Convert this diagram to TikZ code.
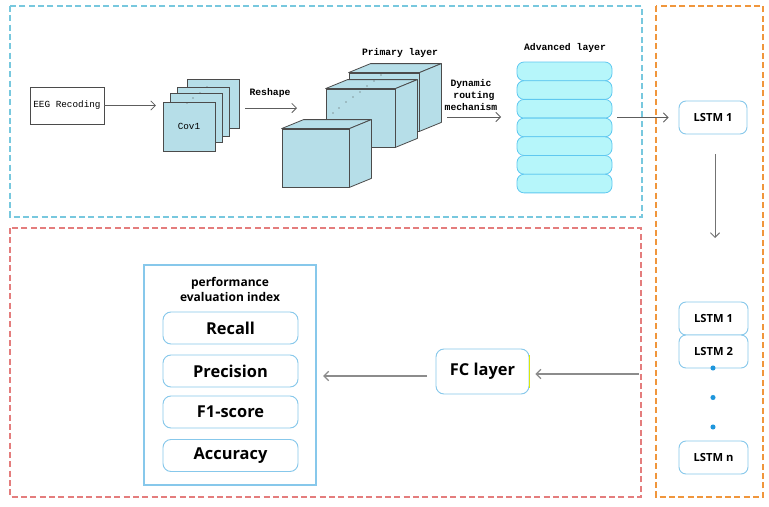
\documentclass[tikz,border=0pt]{standalone}
\usepackage{fontspec}
\setsansfont{Open Sans}
\newfontfamily\simfont{Liberation Mono}
\usetikzlibrary{arrows.meta}
\definecolor{boxblue}{RGB}{120,200,222}
\definecolor{boxorange}{RGB}{240,150,60}
\definecolor{boxred}{RGB}{228,125,125}
\definecolor{cubefill}{RGB}{182,222,232}
\definecolor{advfill}{RGB}{182,246,250}
\definecolor{advdraw}{RGB}{95,200,240}
\definecolor{lstmdraw}{RGB}{135,200,235}
\definecolor{dotblue}{RGB}{30,150,220}
\definecolor{edgegray}{RGB}{75,75,75}
\tikzset{
  dashbox/.style={dash pattern=on 4.5pt off 2.5pt, line width=0.8pt},
  arrdark/.style={draw=edgegray!90, line width=0.6pt, -{Straight Barb[length=3.5pt,width=7pt]}},
  arrgray/.style={draw=black!45, line width=0.9pt, -{Straight Barb[length=3.5pt,width=7pt]}},
  eegbox/.style={draw=edgegray, line width=0.6pt, fill=white, minimum width=55.5pt, minimum height=27.75pt, inner sep=0pt, font=\simfont\fontsize{7}{8}\selectfont},
  covsq/.style={draw=edgegray, line width=0.6pt, fill=cubefill, minimum width=39pt, minimum height=36.75pt, inner sep=0pt},
  cubeface/.style={draw=edgegray, line width=0.6pt, fill=cubefill, minimum height=43.5pt, inner sep=0pt},
  advbox/.style={draw=advdraw, line width=0.6pt, fill=advfill, rounded corners=5.25pt, minimum width=71.25pt, minimum height=14pt, inner sep=0pt},
  lstmbox/.style={draw=lstmdraw, line width=0.7pt, fill=white, rounded corners=5.25pt, minimum width=51pt, minimum height=24.75pt, inner sep=0pt, font=\sffamily\bfseries\fontsize{8.4}{10}\selectfont},
  metricbox/.style={draw=lstmdraw, line width=0.7pt, fill=white, rounded corners=6pt, minimum width=101.25pt, minimum height=24pt, inner sep=0pt, font=\sffamily\bfseries\fontsize{12.3}{14}\selectfont},
  boldlabel/.style={font=\simfont\bfseries\fontsize{7.3}{9.5}\selectfont, inner sep=0pt, align=center},
  tinydot/.style={fill=black!70, draw=none},
  bluedot/.style={circle, fill=dotblue, draw=none, minimum size=3.8pt, inner sep=0pt}
}
\newcommand{\mycube}[1]{%
  \draw[draw=edgegray, line width=0.6pt, fill=cubefill, line join=round]
    (#1.north west) -- ([shift={(22,-9)}]#1.north west) -- ([shift={(22,-9)}]#1.north east) -- (#1.north east) -- cycle;
  \draw[draw=edgegray, line width=0.6pt, fill=cubefill, line join=round]
    (#1.north east) -- ([shift={(22,-9)}]#1.north east) -- ([shift={(22,-9)}]#1.south east) -- (#1.south east) -- cycle;
}
\begin{document}
\begin{tikzpicture}[x=0.75pt,y=-0.75pt]
\useasboundingbox (0,0) rectangle (769,507);
\fill[white] (0,0) rectangle (769,507);

% dashed frames
\draw[dashbox, draw=boxblue] (10,6) rectangle (642,217);
\draw[dashbox, draw=boxorange] (656,6) rectangle (763,497);
\draw[dashbox, draw=boxred] (10,228) rectangle (641,497);

% EEG
\node[eegbox] (eeg) at (67,105.5) {EEG Recoding};

% Cov stack
\node[covsq] (cov4) at (213,104) {};
\node[covsq] (cov3) at (203.5,111.5) {};
\node[covsq] (cov2) at (196.5,117.5) {};
\node[covsq, font=\simfont\fontsize{7}{8}\selectfont] (cov1) at (189,126.5) {Cov1};
\foreach \p in {(187,103),(193,98),(200,93),(207,87)} \fill[tinydot] \p circle (0.6);

\draw[arrdark, shorten >=5pt] (eeg.east) -- (eeg.east -| cov1.west);

% Reshape
\coordinate (rs1) at (245,108);
\coordinate (rs2) at (297,108);
\draw[arrdark] (rs1) -- (rs2);
\node[boldlabel] (reshape) at (270,93) {Reshape};

% cubes
\node[cubeface, minimum width=52.5pt] (cubeC) at (384,102) {};
\mycube{cubeC}
\node[cubeface, minimum width=51.75pt] (cubeB) at (360.5,118) {};
\mycube{cubeB}
\node[cubeface, minimum width=50.25pt] (cubeA) at (315.5,158) {};
\mycube{cubeA}
\foreach \p in {(333,113),(339,108),(346,102),(353,97),(360,92),(367,86),(374,81),(381,75)} \fill[tinydot] \p circle (0.6);
\node[boldlabel] (primary) at (400,53) {Primary layer};

% Dynamic routing
\node[boldlabel] (dyn) at (471,95) {Dynamic\\[-0.2pt]\phantom{.}routing\\[-0.2pt]mechanism};
\coordinate (dr1) at (447,117);
\coordinate (dr2) at (501,117);
\draw[arrdark] (dr1) -- (dr2);

% Advanced layer stack
\foreach \i in {1,...,7} {
  \node[advbox] (adv\i) at (564.5,{62+9.35+(\i-1)*18.7}) {};
}
\node[boldlabel] (advlabel) at (565,48) {Advanced layer};

% LSTM top
\node[lstmbox] (lstmtop) at (713,117.5) {LSTM 1};
\draw[arrdark, shorten <=3.75pt, shorten >=7.5pt] (lstmtop.west -| adv4.east) -- (lstmtop.west);

% LSTM stack
\node[lstmbox, minimum width=51.75pt] (lsA) at (713.5,318.5) {LSTM 1};
\node[lstmbox, minimum width=51.75pt] (lsB) at (713.5,351.5) {LSTM 2};
\node[lstmbox, minimum width=51.75pt] (lsN) at (713.5,457.5) {LSTM n};
\node[bluedot] (d1) at (713,368) {};
\node[bluedot] (d2) at (713,397.5) {};
\node[bluedot] (d3) at (713,427) {};

\coordinate (down2) at (715,238);
\draw[draw=black!55, line width=0.7pt, -{Straight Barb[length=3.5pt,width=7pt]}, shorten <=15pt] (lstmtop.south -| down2) -- (down2);

% FC layer
\node[draw=lstmdraw, line width=0.7pt, fill=white, rounded corners=6pt, minimum width=69.75pt, minimum height=33.75pt, inner sep=0pt, font=\sffamily\bfseries\fontsize{12.3}{14}\selectfont] (fc) at (482.5,371.5) {FC layer};
\draw[draw=yellow!85!green, line width=0.9pt] ([yshift=-5pt]fc.north east) -- ([yshift=5pt]fc.south east);

\coordinate (fcin) at (639,374);
\draw[arrgray, shorten >=4.5pt] (fcin) -- (fcin -| fc.east);

% performance box
\node[draw=lstmdraw, line width=0.8pt, minimum width=129pt, minimum height=165pt, inner sep=0pt] (perf) at (230,375) {};
\node[font=\sffamily\bfseries\fontsize{9}{11.2}\selectfont, align=center, inner sep=0pt] (perftitle) at (230,289.5) {performance\\evaluation index};
\node[metricbox] (recall) at (230.5,328) {Recall};
\node[metricbox] (prec) at (230.5,371) {Precision};
\node[metricbox] (f1) at (230.5,412) {F1-score};
\node[metricbox] (acc) at (230.5,455.5) {Accuracy};

\coordinate (fcout) at (427,376);
\draw[arrgray, shorten >=5pt] (fcout) -- (fcout -| perf.east);
\end{tikzpicture}
\end{document}
